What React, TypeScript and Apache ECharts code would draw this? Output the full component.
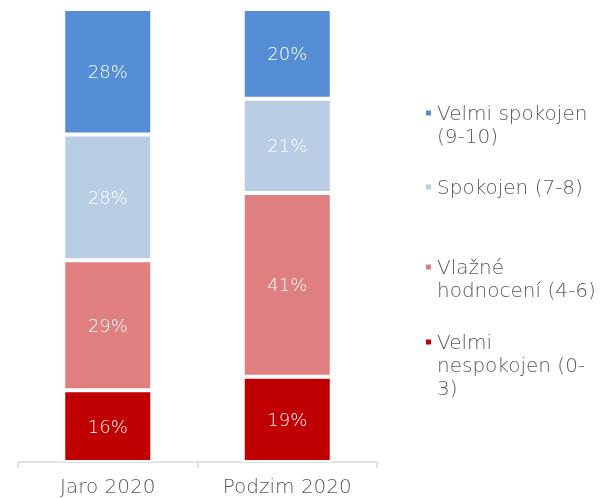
import React, { useEffect, useRef } from "react";
import * as echarts from "echarts";

const categories = ["Jaro 2020", "Podzim 2020"];
const seriesNames = [
  "Velmi nespokojen (0-3)",
  "Vlažné hodnocení (4-6)",
  "Spokojen (7-8)",
  "Velmi spokojen (9-10)",
];
const velmiNespokojen = [16, 19];
const vlazne = [29, 41];
const spokojen = [28, 21];
const velmiSpokojen = [28, 20];
const colors = ["#C00000", "#DF7F7F", "#B9CDE5", "#558ED5"];

const legendLines: Record<string, string[]> = {
  "Velmi spokojen (9-10)": ["Velmi spokojen", "(9-10)"],
  "Spokojen (7-8)": ["Spokojen (7-8)"],
  "Vlažné hodnocení (4-6)": ["Vlažné", "hodnocení (4-6)"],
  "Velmi nespokojen (0-3)": ["Velmi", "nespokojen (0-", "3)"],
};

const FONT = "DejaVu Sans";
const WEIGHT = 200;

export default function App() {
  const ref = useRef<HTMLDivElement>(null);
  useEffect(() => {
    if (!ref.current) return;
    const chart = echarts.init(ref.current, null, { renderer: "svg" });
    const values = [velmiNespokojen, vlazne, spokojen, velmiSpokojen];
    const lh = 23;
    const legendDefs = [
      { name: seriesNames[3], y: 113 },
      { name: seriesNames[2], y: 187 },
      { name: seriesNames[1], y: 267 },
      { name: seriesNames[0], y: 342 },
    ];
    chart.setOption({
      animation: false,
      grid: { left: 18, right: 225, top: 9, bottom: 36 },
      xAxis: {
        type: "category",
        data: categories,
        axisLine: { lineStyle: { color: "#D9D9D9", width: 1.5 } },
        axisTick: { show: true, length: 6, lineStyle: { color: "#D9D9D9", width: 1.5 } },
        axisLabel: { color: "#595959", fontSize: 20, fontFamily: FONT, fontWeight: WEIGHT, margin: 14 },
      },
      yAxis: { type: "value", min: 0, max: 101, show: false, splitLine: { show: false } },
      legend: legendDefs.map((d) => {
        const lines = legendLines[d.name];
        const n = lines.length;
        return {
          data: [d.name],
          left: 424,
          top: d.y - (n - 1) * lh - lh / 2,
          padding: 0,
          icon: "rect",
          itemWidth: 7,
          itemHeight: 7,
          selectedMode: false,
          formatter: () => [...Array(n - 1).fill(" "), ...lines].join("\n"),
          textStyle: {
            color: "#595959",
            fontSize: 20,
            fontFamily: FONT,
            fontWeight: WEIGHT,
            lineHeight: lh,
          },
        };
      }),
      series: seriesNames.map((name, i) => ({
        name,
        type: "bar",
        stack: "total",
        barWidth: 89,
        data: values[i],
        itemStyle: { color: colors[i], borderColor: "#FFFFFF", borderWidth: 2 },
        label: {
          show: true,
          position: "inside",
          formatter: "{c}%",
          color: "#FFFFFF",
          fontSize: 18,
          fontFamily: FONT,
          fontWeight: WEIGHT,
        },
      })),
    });
    return () => chart.dispose();
  }, []);
  return (
    <div
      ref={ref}
      style={{ position: "fixed", left: 0, top: 0, width: 602, height: 498 }}
    />
  );
}
